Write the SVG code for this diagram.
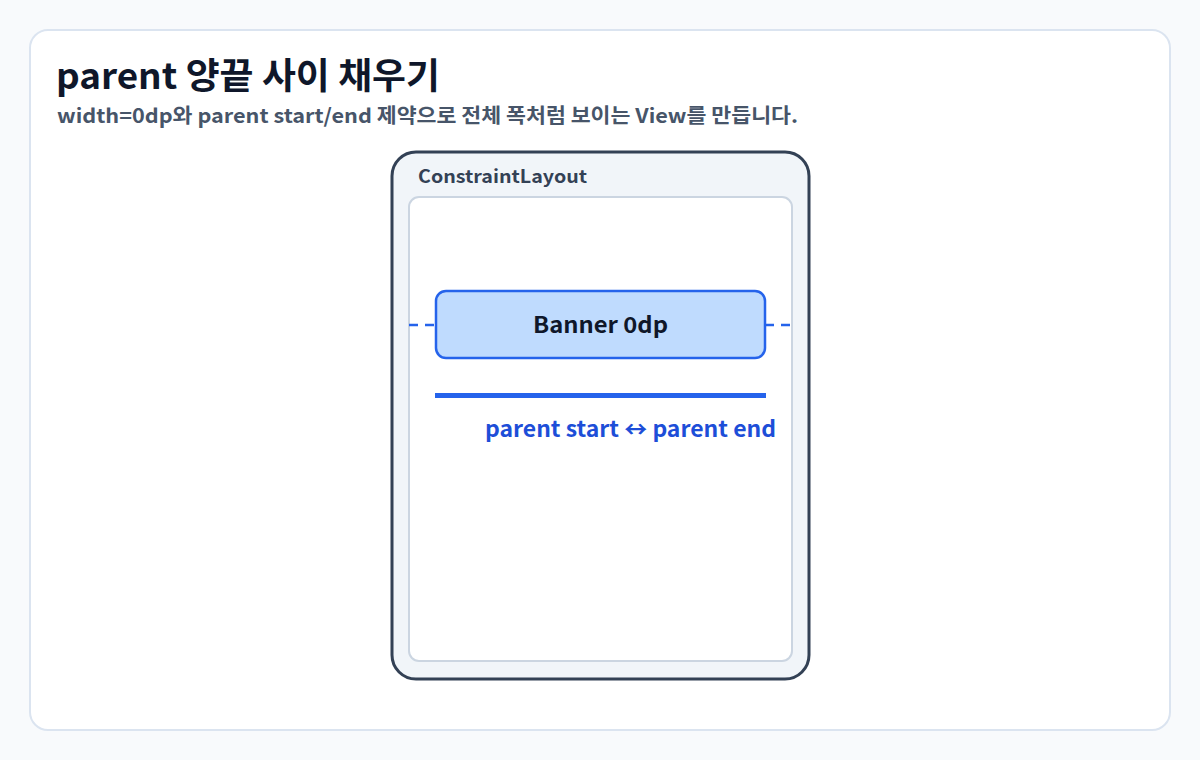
<svg xmlns="http://www.w3.org/2000/svg" width="1200" height="760" viewBox="0 0 1200 760">
<style>
.t{font-family:"Noto Sans CJK KR","Noto Sans",sans-serif;font-weight:700}
</style>
<rect x="0" y="0" width="1200" height="760" fill="#f8fafc"/>
<rect x="30" y="30" width="1140" height="700" rx="18" fill="#ffffff" stroke="#dbe4f0" stroke-width="2"/>
<text class="t" x="56" y="89" font-size="36" font-weight="900" fill="#0f172a" textLength="384" lengthAdjust="spacingAndGlyphs">parent 양끝 사이 채우기</text>
<text class="t" x="57" y="123" font-size="20" fill="#475569" textLength="741" lengthAdjust="spacingAndGlyphs">width=0dp와 parent start/end 제약으로 전체 폭처럼 보이는 View를 만듭니다.</text>
<g id="constraint-layout">
<rect x="392" y="152" width="417" height="527" rx="24" fill="#f1f5f9" stroke="#334155" stroke-width="3"/>
<text class="t" x="418" y="183" font-size="18" font-weight="600" fill="#334155" textLength="169" lengthAdjust="spacingAndGlyphs">ConstraintLayout</text>
<rect x="409" y="197" width="383" height="464" rx="10" fill="#ffffff" stroke="#cbd5e1" stroke-width="2"/>
</g>
<g id="connectors">
<line x1="409" y1="325" x2="436" y2="325" stroke="#2563eb" stroke-width="2.5" stroke-dasharray="9 7"/>
<line x1="765" y1="325" x2="792" y2="325" stroke="#2563eb" stroke-width="2.5" stroke-dasharray="9 7"/>
</g>
<g id="banner">
<rect x="436" y="291" width="329" height="67" rx="10" fill="#bfdbfe" stroke="#2563eb" stroke-width="2.5"/>
<text class="t" x="600.5" y="333" font-size="22" fill="#0f172a" text-anchor="middle" textLength="135" lengthAdjust="spacingAndGlyphs">Banner 0dp</text>
</g>
<g id="width-bar">
<rect x="435" y="393" width="331" height="5" fill="#2563eb"/>
<text class="t" x="776" y="437" font-size="22" fill="#1d4ed8" text-anchor="end" textLength="291" lengthAdjust="spacingAndGlyphs">parent start ↔ parent end</text>
</g>
</svg>
